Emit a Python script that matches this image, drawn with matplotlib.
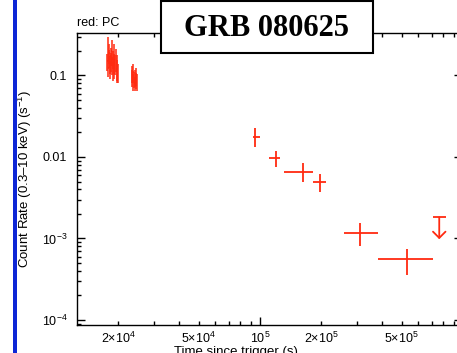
import numpy as np
import matplotlib
matplotlib.use("Agg")
import matplotlib.pyplot as plt
from matplotlib.patches import Rectangle
from matplotlib.ticker import LogLocator, FixedLocator, FixedFormatter, NullFormatter

plt.rcParams['font.family'] = ['Liberation Sans', 'DejaVu Sans']
plt.rcParams['mathtext.fontset'] = 'custom'
plt.rcParams['mathtext.rm'] = 'Liberation Sans'
plt.rcParams['mathtext.it'] = 'Liberation Sans:italic'
plt.rcParams['mathtext.sf'] = 'Liberation Sans'

RED = '#ff2a10'

# PC mode, first orbit (dense bins)
pc1_t = [17700, 17800, 17900, 18000, 18100, 18200, 18300, 18400, 18500, 18600, 18700,
         18800, 18900, 19000, 19100, 19200, 19350, 19500, 19650, 19800, 19950]
pc1_rate = [0.150, 0.225, 0.125, 0.165, 0.190, 0.140, 0.120, 0.175, 0.150, 0.200, 0.135,
            0.160, 0.115, 0.145, 0.180, 0.125, 0.140, 0.160, 0.120, 0.130, 0.110]
pc1_err = [0.035, 0.075, 0.030, 0.040, 0.050, 0.035, 0.030, 0.045, 0.040, 0.070, 0.035,
           0.040, 0.030, 0.040, 0.060, 0.035, 0.040, 0.050, 0.035, 0.050, 0.030]

# PC mode, second orbit
pc2_t = [23350, 23500, 23650, 23800, 23950, 24100, 24250, 24400, 24550, 24700]
pc2_rate = [0.095, 0.105, 0.085, 0.110, 0.090, 0.080, 0.095, 0.088, 0.100, 0.085]
pc2_err = [0.022, 0.025, 0.020, 0.030, 0.020, 0.016, 0.022, 0.020, 0.025, 0.020]
bin_half = 50

# late PC points
late_t = [9.45e4, 1.195e5, 1.623e5, 1.975e5, 3.12e5, 5.28e5]
late_tlo = [9.2e4, 1.111e5, 1.317e5, 1.83e5, 2.594e5, 3.8e5]
late_thi = [1.0e5, 1.255e5, 1.818e5, 2.107e5, 3.8e5, 7.14e5]
late_rate = [0.0177, 0.0098, 0.0066, 0.0049, 1.18e-3, 5.55e-4]
late_rlo = [0.0134, 0.0075, 0.0049, 0.00375, 8.2e-4, 3.56e-4]
late_rhi = [0.0227, 0.0119, 0.0084, 0.0061, 1.54e-3, 7.37e-4]

# upper limit
ul_t = 7.64e5
ul_tlo = 7.14e5
ul_thi = 8.24e5
ul_rate = 1.82e-3
ul_arrow_to = 0.98e-3

W, H = 457, 353
fig = plt.figure(figsize=(W / 100, H / 100), dpi=100)
ax = fig.add_axes([77 / W, (H - 325) / H, (462 - 77) / W, (325 - 33) / H])

ax.errorbar(pc1_t, pc1_rate, xerr=bin_half, yerr=pc1_err, fmt='none',
            ecolor=RED, elinewidth=1.1, capsize=0)
ax.errorbar(pc2_t, pc2_rate, xerr=bin_half, yerr=pc2_err, fmt='none',
            ecolor=RED, elinewidth=1.1, capsize=0)

lt = np.array(late_t)
lr = np.array(late_rate)
ax.errorbar(lt, lr,
            xerr=[lt - np.array(late_tlo), np.array(late_thi) - lt],
            yerr=[lr - np.array(late_rlo), np.array(late_rhi) - lr],
            fmt='none', ecolor=RED, elinewidth=1.3, capsize=0)

ax.errorbar([ul_t], [ul_rate], xerr=[[ul_t - ul_tlo], [ul_thi - ul_t]], fmt='none',
            ecolor=RED, elinewidth=1.3, capsize=0)
ax.annotate('', xy=(ul_t, ul_arrow_to), xytext=(ul_t, ul_rate),
            arrowprops=dict(arrowstyle='->,head_length=0.45,head_width=0.45',
                            color=RED, lw=1.3, shrinkA=0, shrinkB=0))

ax.set_xscale('log')
ax.set_yscale('log')
ax.set_xlim(1.255e4, 9.89e5)
ax.set_ylim(8.68e-5, 0.332)

# x ticks
ax.xaxis.set_major_locator(FixedLocator([1e5, 1e6]))
ax.xaxis.set_major_formatter(FixedFormatter([r'$10^{5}$', r'$10^{6}$']))
xminor = [m * 10 ** e for e in (4, 5) for m in range(2, 10)]
xminor_lab = []
for v in xminor:
    e = int(np.floor(np.log10(v)))
    m = round(v / 10 ** e)
    xminor_lab.append(r'$%d{\times}10^{%d}$' % (m, e) if m in (2, 5) else '')
ax.xaxis.set_minor_locator(FixedLocator(xminor))
ax.xaxis.set_minor_formatter(FixedFormatter(xminor_lab))

# y ticks
ax.yaxis.set_major_locator(FixedLocator([1e-4, 1e-3, 1e-2, 1e-1]))
ax.yaxis.set_major_formatter(FixedFormatter([r'$10^{-4}$', r'$10^{-3}$', '0.01', '0.1']))
ax.yaxis.set_minor_locator(LogLocator(base=10, subs=np.arange(2, 10), numticks=20))
ax.yaxis.set_minor_formatter(NullFormatter())

ax.tick_params(which='both', direction='in', top=True, right=True, width=1.0,
               labelsize=9, colors='black')
ax.tick_params(which='major', length=6)
ax.tick_params(which='minor', length=3)
ax.tick_params(axis='y', which='both', pad=7)
ax.tick_params(axis='x', which='both', pad=4)
for s in ax.spines.values():
    s.set_linewidth(1.0)

# x label sits at the bottom edge, partly clipped as in the original
ax.set_xlabel('Time since trigger (s)', fontsize=9.5)
ax.xaxis.set_label_coords((236 - 77) / (462 - 77), -0.072)
fig.text(25 / W, 1 - 179 / H, r'Count Rate (0.3–10 keV) (s$^{-1}$)', rotation=90,
         ha='center', va='center', fontsize=9.5)

ax.text(0.0, 1.012, 'red: PC', transform=ax.transAxes, ha='left', va='bottom', fontsize=9)

# title box
fig.add_artist(Rectangle((161 / W, 1 - 53 / H), (373 - 161) / W, (53 - 1) / H,
                         transform=fig.transFigure, facecolor='white',
                         edgecolor='black', linewidth=1.5, zorder=5))
fig.text(267 / W, 1 - 28 / H, 'GRB 080625', ha='center', va='center',
         fontfamily='Liberation Serif', fontweight='bold', fontsize=22, zorder=6)

# blue bar at the left edge
fig.add_artist(Rectangle((13 / W, 0), 4 / W, 1, transform=fig.transFigure,
                         facecolor='#0d26d6', edgecolor='none', zorder=5))

fig.savefig('out.png', dpi=100)
